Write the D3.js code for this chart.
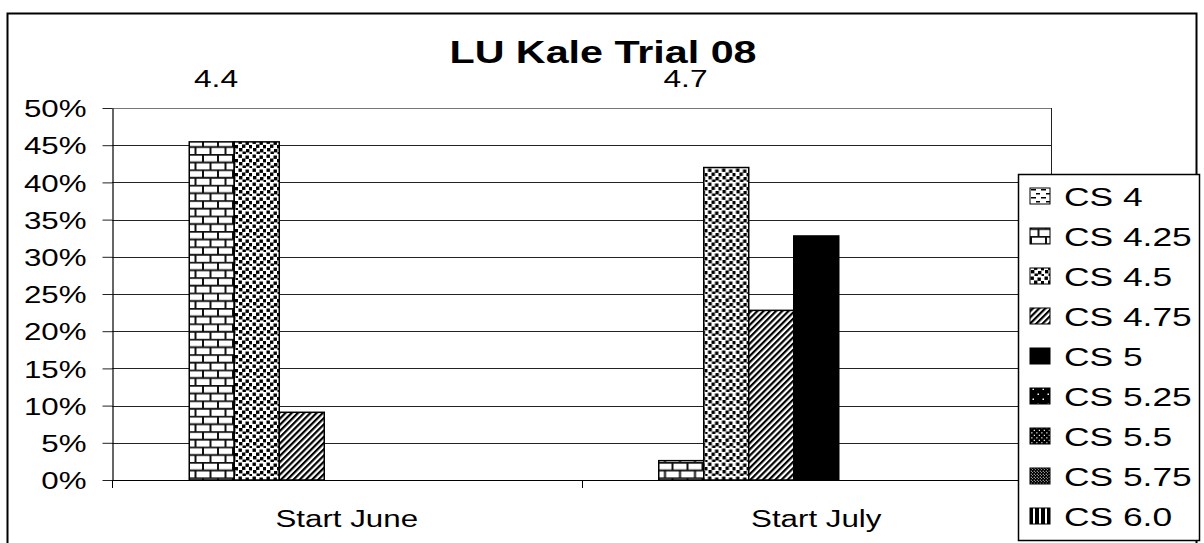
<!DOCTYPE html>
<html>
<head>
<meta charset="utf-8">
<script src="https://cdn.jsdelivr.net/npm/d3@7"></script>
<style>
  body { margin: 0; background: #fff; }
  text { font-family: "Liberation Sans", Arial, sans-serif; fill: #000; }
</style>
</head>
<body>
<div id="viz"></div>
<script>
const categories = ["Start June", "Start July"];
const seriesNames = ["CS 4", "CS 4.25", "CS 4.5", "CS 4.75", "CS 5", "CS 5.25", "CS 5.5", "CS 5.75", "CS 6.0"];
const cs4 = [0, 0];
const cs425 = [0.4545, 0.026];
const cs45 = [0.4545, 0.42];
const cs475 = [0.091, 0.228];
const cs5 = [0, 0.328];
const cs525 = [0, 0];
const cs55 = [0, 0];
const cs575 = [0, 0];
const cs60 = [0, 0];
const stageLabels = ["4.4", "4.7"];
const yTickValues = [0, 0.05, 0.1, 0.15, 0.2, 0.25, 0.3, 0.35, 0.4, 0.45, 0.5];
const title = "LU Kale Trial 08";

const seriesValues = [cs4, cs425, cs45, cs475, cs5, cs525, cs55, cs575, cs60];

const width = 1204;
const height = 543;

const svg = d3.select("#viz").append("svg")
    .attr("width", width)
    .attr("height", height);

// the source picture is stretched sideways, so widen the text to match
function stretch(sel, k) {
    sel.each(function () {
        const w = this.getComputedTextLength();
        d3.select(this).attr("textLength", w * k).attr("lengthAdjust", "spacingAndGlyphs");
    });
}

// ---- fill patterns ----
const defs = svg.append("defs");

const pDash = defs.append("pattern").attr("id", "p0").attr("patternUnits", "userSpaceOnUse")
    .attr("width", 10).attr("height", 8);
pDash.append("rect").attr("width", 10).attr("height", 8).attr("fill", "#fff");
pDash.append("rect").attr("x", 1).attr("y", 1).attr("width", 5).attr("height", 1.5).attr("fill", "#000");
pDash.append("rect").attr("x", 6).attr("y", 5).attr("width", 4).attr("height", 1.5).attr("fill", "#000");

const pBrick = defs.append("pattern").attr("id", "p1").attr("patternUnits", "userSpaceOnUse")
    .attr("width", 15).attr("height", 15.4);
pBrick.append("rect").attr("width", 15).attr("height", 15.4).attr("fill", "#fff");
pBrick.append("path")
    .attr("d", "M0,0.8H15M0,8.5H15M1,0V8.5M8.5,8.5V15.4")
    .attr("stroke", "#111").attr("stroke-width", 2).attr("fill", "none");

const pConf = defs.append("pattern").attr("id", "p2").attr("patternUnits", "userSpaceOnUse")
    .attr("width", 14).attr("height", 14);
pConf.append("rect").attr("width", 14).attr("height", 14).attr("fill", "#fff");
[[0.5, 0.5], [7.5, 1.5], [4, 4.5], [11, 5], [1, 8], [8, 9], [4.5, 11.5], [11.5, 12]].forEach(p => {
    pConf.append("rect").attr("x", p[0]).attr("y", p[1]).attr("width", 3.4).attr("height", 3.4).attr("fill", "#000");
});

const pDiag = defs.append("pattern").attr("id", "p3").attr("patternUnits", "userSpaceOnUse")
    .attr("width", 4.4).attr("height", 10).attr("patternTransform", "rotate(45)");
pDiag.append("rect").attr("width", 4.4).attr("height", 10).attr("fill", "#fff");
pDiag.append("rect").attr("width", 2.2).attr("height", 10).attr("fill", "#000");

function dotPattern(id, step, r) {
    const p = defs.append("pattern").attr("id", id).attr("patternUnits", "userSpaceOnUse")
        .attr("width", step).attr("height", step);
    p.append("rect").attr("width", step).attr("height", step).attr("fill", "#000");
    p.append("rect").attr("x", step / 4).attr("y", step / 4).attr("width", r).attr("height", r).attr("fill", "#fff");
    p.append("rect").attr("x", step * 3 / 4).attr("y", step * 3 / 4).attr("width", r).attr("height", r).attr("fill", "#fff");
}
dotPattern("p5", 10, 1.5);
dotPattern("p6", 5, 1.2);
dotPattern("p7", 3, 1);

const pVert = defs.append("pattern").attr("id", "p8").attr("patternUnits", "userSpaceOnUse")
    .attr("width", 6).attr("height", 6);
pVert.append("rect").attr("width", 6).attr("height", 6).attr("fill", "#000");
pVert.append("rect").attr("x", 3).attr("width", 2).attr("height", 6).attr("fill", "#fff");

const fillFor = i => i === 4 ? "#000" : `url(#p${i})`;

// ---- scales ----
const x0 = d3.scaleBand().domain(categories).range([112, 1051]).padding(0);
const x1 = d3.scaleBand().domain(seriesNames).range([0, x0.bandwidth()])
    .paddingInner(0).paddingOuter(0.717);
const y = d3.scaleLinear().domain([0, 0.5]).range([480, 108]);

// outer border
svg.append("rect")
    .attr("x", 7.5).attr("y", 13.5)
    .attr("width", 1189).attr("height", 545)
    .attr("fill", "none").attr("stroke", "#000").attr("stroke-width", 2);

// gridlines
svg.append("g")
    .selectAll("line")
    .data(yTickValues.filter(d => d > 0))
    .enter()
    .append("line")
    .attr("x1", 112).attr("x2", 1051)
    .attr("y1", d => Math.round(y(d)) + 0.5)
    .attr("y2", d => Math.round(y(d)) + 0.5)
    .attr("stroke", d => d === 0.5 ? "#777" : "#222")
    .attr("stroke-width", 1);

// plot area right edge
svg.append("line")
    .attr("x1", 1051.5).attr("x2", 1051.5)
    .attr("y1", y(0.5)).attr("y2", y(0))
    .attr("stroke", "#222");

// bars
const groups = svg.append("g")
    .selectAll("g")
    .data(categories)
    .enter()
    .append("g")
    .attr("transform", d => "translate(" + x0(d) + ",0)");

groups.selectAll("rect")
    .data((cat, ci) => seriesNames.map((s, si) => ({ s, si, v: seriesValues[si][ci] })).filter(d => d.v > 0))
    .enter()
    .append("rect")
    .attr("x", d => x1(d.s))
    .attr("width", x1.bandwidth())
    .attr("y", d => y(d.v))
    .attr("height", d => y(0) - y(d.v))
    .attr("fill", d => fillFor(d.si))
    .attr("stroke", "#000")
    .attr("stroke-width", 1.5);

// y axis
const yAxis = svg.append("g")
    .attr("transform", "translate(112.5,0)")
    .call(d3.axisLeft(y).tickValues(yTickValues).tickFormat(d3.format(".0%"))
        .tickSize(10).tickSizeOuter(0).tickPadding(16));
yAxis.select(".domain").attr("stroke", "#000").attr("stroke-width", 1.2);
yAxis.selectAll(".tick line").attr("stroke", "#222");
yAxis.selectAll("text")
    .attr("font-size", 23)
    .attr("font-family", "Liberation Sans, Arial, sans-serif")
    .attr("dy", "0.38em")
    .call(stretch, 1.36);

// x axis baseline and boundary ticks
svg.append("line")
    .attr("x1", 112).attr("x2", 1051)
    .attr("y1", y(0) + 0.5).attr("y2", y(0) + 0.5)
    .attr("stroke", "#000").attr("stroke-width", 1.2);

const boundaries = categories.map(c => x0(c)).concat([x0(categories[categories.length - 1]) + x0.bandwidth()]);
svg.append("g")
    .selectAll("line")
    .data(boundaries)
    .enter()
    .append("line")
    .attr("x1", d => Math.round(d) + 0.5).attr("x2", d => Math.round(d) + 0.5)
    .attr("y1", y(0)).attr("y2", y(0) + 8)
    .attr("stroke", "#000");

svg.append("g")
    .selectAll("text")
    .data(categories)
    .enter()
    .append("text")
    .attr("x", d => x0(d) + x0.bandwidth() / 2)
    .attr("y", 527)
    .attr("text-anchor", "middle")
    .attr("font-size", 23)
    .text(d => d)
    .call(stretch, 1.36);

// stage labels above the groups
svg.append("g")
    .selectAll("text")
    .data(categories)
    .enter()
    .append("text")
    .attr("x", d => x0(d) + 104)
    .attr("y", 87)
    .attr("text-anchor", "middle")
    .attr("font-size", 23)
    .text((d, i) => stageLabels[i])
    .call(stretch, 1.38);

// title
svg.append("text")
    .attr("x", 603)
    .attr("y", 63)
    .attr("text-anchor", "middle")
    .attr("font-size", 31)
    .attr("font-weight", "bold")
    .text(title)
    .call(stretch, 1.33);

// legend
const legend = svg.append("g");
legend.append("rect")
    .attr("x", 1018.5).attr("y", 174.5)
    .attr("width", 181).attr("height", 366)
    .attr("fill", "#fff").attr("stroke", "#000").attr("stroke-width", 1.5);

const items = legend.selectAll("g")
    .data(seriesNames)
    .enter()
    .append("g")
    .attr("transform", (d, i) => "translate(1030," + (196 + i * 40) + ")");

items.append("rect")
    .attr("x", 0).attr("y", -8)
    .attr("width", 20).attr("height", 16)
    .attr("fill", (d, i) => fillFor(i))
    .attr("stroke", "#000").attr("stroke-width", 1);

items.append("text")
    .attr("x", 34)
    .attr("y", 9.5)
    .attr("font-size", 26)
    .text(d => d)
    .call(stretch, 1.36);
</script>
</body>
</html>
